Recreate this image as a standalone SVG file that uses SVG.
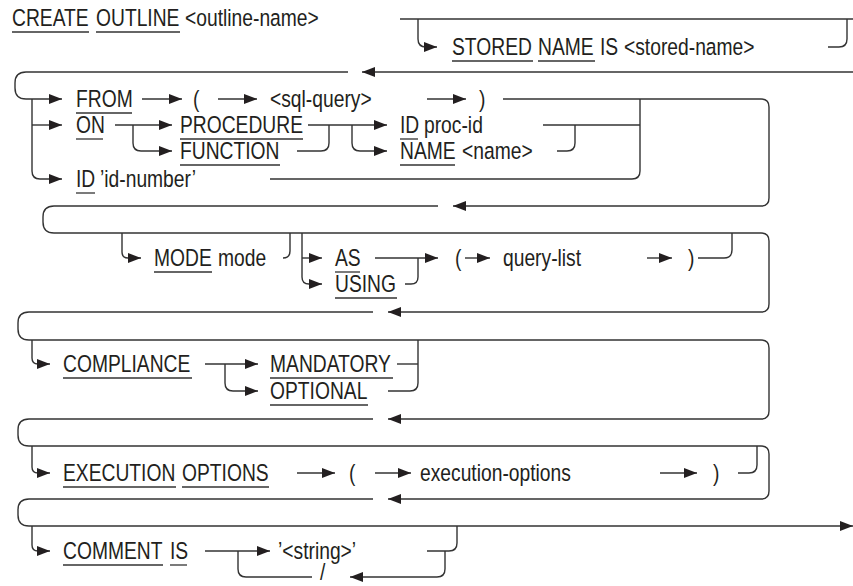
<svg xmlns="http://www.w3.org/2000/svg" width="853" height="586" viewBox="0 0 853 586">
<style>
.t{font-family:"Liberation Sans",Arial,Helvetica,sans-serif;font-size:23.5px;fill:#231f20}
.c path{fill:none;stroke:#333;stroke-width:1.4}
.u{stroke:#333;stroke-width:1.3}
</style>
<defs>
<marker id="ah" viewBox="0 0 13 10" refX="13" refY="5" markerWidth="13" markerHeight="10" markerUnits="userSpaceOnUse" orient="auto"><path d="M0,0L13,5L0,10z" fill="#231f20"/></marker>
</defs>
<rect width="853" height="586" fill="#fff"/>
<g id="connectors" class="c">
<path d="M400,19H853"/>
<path d="M418,19V39Q418,47 426,47H437" marker-end="url(#ah)"/>
<path d="M828,47H839Q847,47 847,39V19"/>
<path d="M853,72H362" marker-end="url(#ah)"/>
<path d="M348,72H26Q15,72 15,83V88Q15,99 26,99H62" marker-end="url(#ah)"/>
<path d="M32,99V171Q32,179 40,179H62" marker-end="url(#ah)"/>
<path d="M32,125H62" marker-end="url(#ah)"/>
<path d="M142,99H182" marker-end="url(#ah)"/>
<path d="M218,99H257" marker-end="url(#ah)"/>
<path d="M427,99H466" marker-end="url(#ah)"/>
<path d="M503,99H761Q769,99 769,107V198Q769,206 761,206H453" marker-end="url(#ah)"/>
<path d="M640,99V171Q640,179 632,179H270"/>
<path d="M543,125H640"/>
<path d="M557,151H567Q575,151 575,143V125"/>
<path d="M115,125H172" marker-end="url(#ah)"/>
<path d="M133,125V143Q133,151 141,151H172" marker-end="url(#ah)"/>
<path d="M308,125H387" marker-end="url(#ah)"/>
<path d="M297,151H321Q329,151 329,143V125"/>
<path d="M352,125V143Q352,151 360,151H387" marker-end="url(#ah)"/>
<path d="M438,206H54Q43,206 43,217V222Q43,233 54,233H761Q769,233 769,241V304Q769,312 761,312H388" marker-end="url(#ah)"/>
<path d="M122,233V252Q122,258 128,258H141" marker-end="url(#ah)"/>
<path d="M290,233V251Q290,258 283,258"/>
<path d="M302,233V277Q302,284 309,284H322" marker-end="url(#ah)"/>
<path d="M302,258H322" marker-end="url(#ah)"/>
<path d="M375,258H438" marker-end="url(#ah)"/>
<path d="M405,284H411Q418,284 418,277V258"/>
<path d="M465,258H490" marker-end="url(#ah)"/>
<path d="M647,258H672" marker-end="url(#ah)"/>
<path d="M698,258H724Q732,258 732,250V233"/>
<path d="M373,312H29Q18,312 18,323V329Q18,340 29,340H761Q769,340 769,348V411Q769,419 761,419H388" marker-end="url(#ah)"/>
<path d="M32,340V358Q32,364 38,364H50" marker-end="url(#ah)"/>
<path d="M205,364H258" marker-end="url(#ah)"/>
<path d="M225,364V383Q225,391 233,391H258" marker-end="url(#ah)"/>
<path d="M397,364H418"/>
<path d="M418,340V383Q418,391 410,391H388"/>
<path d="M373,419H29Q18,419 18,430V435Q18,446 29,446H761Q769,446 769,454V491Q769,499 761,499H388" marker-end="url(#ah)"/>
<path d="M32,446V467Q32,473 38,473H50" marker-end="url(#ah)"/>
<path d="M297,473H335" marker-end="url(#ah)"/>
<path d="M375,473H411" marker-end="url(#ah)"/>
<path d="M660,473H697" marker-end="url(#ah)"/>
<path d="M738,473H749Q757,473 757,465V446"/>
<path d="M373,499H29Q18,499 18,510V515Q18,526 29,526H853" marker-end="url(#ah)"/>
<path d="M32,526V545Q32,551 38,551H50" marker-end="url(#ah)"/>
<path d="M205,551H270" marker-end="url(#ah)"/>
<path d="M238,551V569Q238,577 246,577H312"/>
<path d="M427,551H449Q457,551 457,543V526"/>
<path d="M445,551V569Q445,577 437,577H350" marker-end="url(#ah)"/>
</g>
<g id="create-outline">
<text class="t" transform="translate(12 26) scale(.82 1)">CREATE</text>
<text class="t" transform="translate(96 26) scale(.82 1)">OUTLINE</text>
<text class="t" transform="translate(185 26) scale(.82 1)">&lt;outline-name&gt;</text>
<line class="u" x1="12" y1="32" x2="89" y2="32"/><line class="u" x1="96" y1="32" x2="180" y2="32"/>
</g>
<g id="stored-name">
<text class="t" transform="translate(452 55) scale(.82 1)">STORED</text>
<text class="t" transform="translate(538 55) scale(.82 1)">NAME</text>
<text class="t" transform="translate(600 55) scale(.82 1)">IS</text>
<text class="t" transform="translate(624 55) scale(.82 1)">&lt;stored-name&gt;</text>
<line class="u" x1="452" y1="61" x2="533" y2="61"/><line class="u" x1="538" y1="61" x2="595" y2="61"/>
</g>
<g id="from">
<text class="t" transform="translate(76 107) scale(.82 1)">FROM</text>
<line class="u" x1="76" y1="113" x2="132" y2="113"/>
</g>
<g id="lparen1"><text class="t" transform="translate(193 107) scale(.82 1)">(</text></g>
<g id="sql-query"><text class="t" transform="translate(270 107) scale(.82 1)">&lt;sql-query&gt;</text></g>
<g id="rparen1"><text class="t" transform="translate(479 107) scale(.82 1)">)</text></g>
<g id="on">
<text class="t" transform="translate(76 133) scale(.82 1)">ON</text>
<line class="u" x1="76" y1="139" x2="103" y2="139"/>
</g>
<g id="procedure">
<text class="t" transform="translate(180 133) scale(.82 1)">PROCEDURE</text>
<line class="u" x1="180" y1="139" x2="303" y2="139"/>
</g>
<g id="function">
<text class="t" transform="translate(180 159) scale(.82 1)">FUNCTION</text>
<line class="u" x1="180" y1="165" x2="280" y2="165"/>
</g>
<g id="id-proc">
<text class="t" transform="translate(400 133) scale(.82 1)">ID</text>
<text class="t" transform="translate(424 133) scale(.82 1)">proc-id</text>
<line class="u" x1="400" y1="139" x2="418" y2="139"/>
</g>
<g id="name">
<text class="t" transform="translate(400 159) scale(.82 1)">NAME</text>
<text class="t" transform="translate(462 159) scale(.82 1)">&lt;name&gt;</text>
<line class="u" x1="400" y1="165" x2="455" y2="165"/>
</g>
<g id="id-number">
<text class="t" transform="translate(76 187) scale(.82 1)">ID</text>
<text class="t" transform="translate(100 187) scale(.82 1)">’id-number’</text>
<line class="u" x1="76" y1="193" x2="95" y2="193"/>
</g>
<g id="mode">
<text class="t" transform="translate(154 266) scale(.82 1)">MODE</text>
<text class="t" transform="translate(218 266) scale(.82 1)">mode</text>
<line class="u" x1="154" y1="272" x2="212" y2="272"/>
</g>
<g id="as">
<text class="t" transform="translate(335 266) scale(.82 1)">AS</text>
<line class="u" x1="335" y1="272" x2="360" y2="272"/>
</g>
<g id="using">
<text class="t" transform="translate(335 292) scale(.82 1)">USING</text>
<line class="u" x1="335" y1="298" x2="397" y2="298"/>
</g>
<g id="lparen2"><text class="t" transform="translate(455 266) scale(.82 1)">(</text></g>
<g id="query-list"><text class="t" transform="translate(503 266) scale(.82 1)">query-list</text></g>
<g id="rparen2"><text class="t" transform="translate(688 266) scale(.82 1)">)</text></g>
<g id="compliance">
<text class="t" transform="translate(63 372) scale(.82 1)">COMPLIANCE</text>
<line class="u" x1="63" y1="378" x2="192" y2="378"/>
</g>
<g id="mandatory">
<text class="t" transform="translate(270 372) scale(.82 1)">MANDATORY</text>
<line class="u" x1="270" y1="378" x2="393" y2="378"/>
</g>
<g id="optional">
<text class="t" transform="translate(270 399) scale(.82 1)">OPTIONAL</text>
<line class="u" x1="270" y1="405" x2="368" y2="405"/>
</g>
<g id="execution-options-kw">
<text class="t" transform="translate(63 481) scale(.82 1)">EXECUTION</text>
<text class="t" transform="translate(182 481) scale(.82 1)">OPTIONS</text>
<line class="u" x1="63" y1="487" x2="176" y2="487"/><line class="u" x1="182" y1="487" x2="269" y2="487"/>
</g>
<g id="lparen3"><text class="t" transform="translate(349 481) scale(.82 1)">(</text></g>
<g id="execution-options"><text class="t" transform="translate(420 481) scale(.82 1)">execution-options</text></g>
<g id="rparen3"><text class="t" transform="translate(713 481) scale(.82 1)">)</text></g>
<g id="comment-is">
<text class="t" transform="translate(63 559) scale(.82 1)">COMMENT</text>
<text class="t" transform="translate(170 559) scale(.82 1)">IS</text>
<line class="u" x1="63" y1="565" x2="163" y2="565"/><line class="u" x1="170" y1="565" x2="187" y2="565"/>
</g>
<g id="string"><text class="t" transform="translate(278 559) scale(.82 1)">’&lt;string&gt;’</text></g>
<g id="slash"><text class="t" transform="translate(320 580) scale(.82 1)">/</text></g>
</svg>
